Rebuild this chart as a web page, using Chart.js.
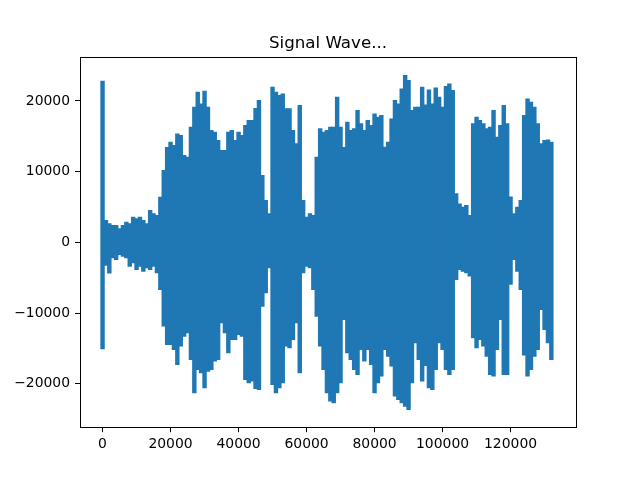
<!DOCTYPE html>
<html><head><meta charset="utf-8">
<script src="https://cdn.jsdelivr.net/npm/chart.js@4/dist/chart.umd.min.js"></script>
<style>html,body{margin:0;padding:0;background:#fff;}canvas{display:block;}</style>
</head><body>
<canvas id="c" width="640" height="480"></canvas>
<script>
// ---- data (envelope of the waveform, read per block of 1000 samples) ----
const chartTitle = "Signal Wave...";
const blockSize = 1000;
const upper = [22860,3160,2690,2450,2450,1980,2450,2920,2690,3630,
  3390,3630,3160,2690,4570,4100,3860,6460,10230,13500,
  14230,13760,15410,15180,12350,12110,16350,19180,21300,19650,
  21440,19180,15880,15650,14470,13050,13050,15650,15880,14470,
  15650,15180,16590,17300,17300,19000,20120,9520,5990,4100,
  22010,21300,20830,21070,18950,18950,15880,14000,19420,5990,
  3630,4100,3860,12110,16120,15650,15880,16350,16350,20600,
  16350,13500,17060,15880,16120,18710,16830,15880,17300,16590,
  18240,17770,18000,13530,14230,17530,20120,19650,21770,23660,
  22950,18710,19180,19180,22010,19500,21630,19650,21910,20600,
  19180,22100,22480,21540,6930,5510,5040,5280,3860,16830,
  17770,17300,16830,16120,16350,18710,14940,16590,19420,16830,
  6500,4100,5040,5990,18000,20360,19890,19180,16830,14000,
  14470,14560,14230];
const lower = [-15130,-3300,-4400,-2260,-2500,-1790,-2030,-2260,-3440,-2970,
  -3910,-3440,-4150,-3680,-3910,-3440,-4380,-6740,-11920,-14520,
  -14520,-15220,-17340,-14750,-13340,-12870,-16640,-21350,-18050,-18520,
  -20640,-18290,-18050,-16870,-16640,-11450,-12870,-15690,-13810,-13810,
  -13100,-13340,-19460,-19940,-19700,-20760,-20880,-9100,-7210,-3680,
  -20170,-21350,-20640,-19940,-14750,-14990,-13810,-11450,-18520,-4380,
  -3440,-3680,-6740,-10510,-14750,-18050,-21350,-22530,-22760,-21350,
  -19940,-11000,-15690,-16640,-18050,-18760,-15220,-16870,-15220,-17340,
  -21350,-19940,-18990,-15220,-16170,-17580,-21820,-22290,-22760,-23240,
  -23710,-19940,-14280,-16640,-19700,-17500,-20640,-20880,-18050,-14280,
  -15220,-18050,-18760,-18050,-5330,-3910,-4150,-4380,-4850,-13570,
  -14990,-13810,-14750,-16170,-18760,-18990,-15220,-11000,-18760,-18760,
  -6000,-2500,-4150,-6740,-16000,-18990,-18050,-16170,-15220,-9570,
  -12400,-14280,-16640];
const xTicks = [0,20000,40000,60000,80000,100000,120000];
const yTicks = [-20000,-10000,0,10000,20000];
const xLimits = [-6630,139250];
const yLimits = [-26150,26130];

// ---- build: one floating bar (min..max) per block ----
const bars = upper.map((u,i)=>({x:i*blockSize, y:[lower[i], u]}));
const fmt = v => v < 0 ? '\u2212' + Math.abs(v) : String(v);
const BLUE = '#1f77b4';
const tickFont = {family:'DejaVu Sans', size:13.9};

const framePlugin = {
  id:'frame',
  afterDraw(chart){
    const {ctx, chartArea:a} = chart;
    ctx.save();
    ctx.strokeStyle = '#000';
    ctx.lineWidth = 1;
    const l = Math.floor(a.left)+0.5, t = Math.floor(a.top)+0.5;
    const r = Math.floor(a.right)+0.5, b = Math.floor(a.bottom)+0.5;
    ctx.strokeRect(l, t, r-l, b-t);
    ctx.restore();
  }
};

new Chart(document.getElementById('c'), {
  type:'bar',
  data:{datasets:[
    {data:bars, backgroundColor:BLUE, borderWidth:0, barPercentage:1.3, categoryPercentage:1, borderSkipped:false}
  ]},
  options:{
    responsive:false, animation:false, devicePixelRatio:1, events:[],
    layout:{padding:{left:0,right:64,top:0,bottom:0}},
    plugins:{
      legend:{display:false}, tooltip:{enabled:false},
      title:{display:true, text:chartTitle, fullSize:false, color:'#000',
        font:{family:'DejaVu Sans', size:16.67, weight:'normal', lineHeight:1.2},
        padding:{top:34,bottom:3.6}}
    },
    scales:{
      x:{type:'linear', position:'bottom', min:xLimits[0], max:xLimits[1], offset:false,
        afterBuildTicks:s=>{s.ticks = xTicks.map(v=>({value:v}));},
        afterFit:s=>{s.height = 52.8;},
        grid:{offset:false, drawOnChartArea:false, drawTicks:true, tickLength:5, color:'#000', lineWidth:1},
        border:{display:true, color:'#000', width:1},
        ticks:{color:'#000', font:tickFont, padding:4, maxRotation:0, autoSkip:false, callback:fmt}},
      y:{type:'linear', position:'left', min:yLimits[0], max:yLimits[1],
        afterBuildTicks:s=>{s.ticks = yTicks.map(v=>({value:v}));},
        afterFit:s=>{s.width = 80;},
        grid:{drawOnChartArea:false, drawTicks:true, tickLength:5, color:'#000', lineWidth:1},
        border:{display:true, color:'#000', width:1},
        ticks:{color:'#000', font:tickFont, padding:5, autoSkip:false, callback:fmt}}
    }
  },
  plugins:[framePlugin]
});
</script>
</body></html>
